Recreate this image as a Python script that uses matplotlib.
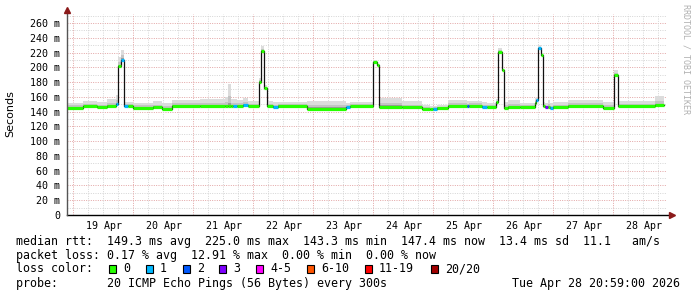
import matplotlib
matplotlib.use("Agg")
import matplotlib.pyplot as plt
import numpy as np
from matplotlib.patches import Rectangle

W, H = 697, 297

# day 0 = 19 Apr 00:00, steps held until next break
seg_day = [-0.10, 0.17, 0.40, 0.57, 0.72, 0.75, 0.80, 0.85, 0.92, 1.00,
           1.33, 1.48, 1.65, 2.12, 2.53, 2.58, 2.63, 2.67, 2.73, 2.83,
           2.92, 3.10, 3.13, 3.18, 3.23, 3.33, 3.42, 3.90, 4.55, 4.62,
           5.00, 5.07, 5.10, 5.48, 5.82, 5.95, 6.00, 6.07, 6.25, 6.57,
           6.60, 6.82, 6.90, 7.05, 7.08, 7.15, 7.18, 7.25, 7.45, 7.70,
           7.72, 7.75, 7.80, 7.83, 7.87, 7.92, 7.95, 8.00, 8.25, 8.83,
           9.02, 9.08, 9.70]
end_day = 9.85
median_ms = [145.5, 147, 146, 147, 150, 202, 210, 147.5, 147.5, 145.5,
             146, 144, 147.5, 147.5, 147.5, 147.5, 147.5, 147, 147.5, 149.5,
             147.5, 180, 222, 172, 147.5, 146.5, 147.5, 144, 146, 147,
             207, 203, 146.5, 146, 144, 143, 144, 145, 148, 147,
             148, 146, 146, 153, 221, 196, 145, 146.5, 146, 152,
             156, 226, 217, 147.5, 146, 146, 145.5, 146, 147.5, 144.8,
             190, 147.5, 149]
smoke_top = [152, 154, 153, 157, 162, 214, 224, 153, 153, 152,
             154, 152, 156, 157, 160, 178, 157, 157, 156, 158,
             154, 186, 229, 176, 154, 153, 153, 155, 152, 153,
             210, 205, 159, 154, 149, 147, 148, 149, 156, 155,
             155, 153, 152, 157, 226, 198, 153, 156, 152, 158,
             158, 230, 219, 153, 151, 156, 151, 153, 156, 153,
             196, 154, 161]
loss_idx = [0, 0, 0, 0, 1, 0, 1, 1, 0, 0,
            0, 0, 0, 0, 0, 0, 0, 1, 0, 1,
            0, 0, 0, 0, 0, 1, 0, 0, 1, 0,
            0, 0, 0, 0, 0, 0, 1, 0, 0, 2,
            0, 1, 0, 0, 0, 0, 0, 0, 0, 0,
            1, 1, 0, 0, 3, 0, 1, 0, 0, 0,
            0, 0, 0]

loss_colors = ["#26ff00", "#00b8ff", "#0059ff", "#7e00ff",
               "#ff00ff", "#ff5500", "#ff0000", "#a10000"]
loss_labels = ["0", "1", "2", "3", "4-5", "6-10", "11-19", "20/20"]
day_labels = ["19 Apr", "20 Apr", "21 Apr", "22 Apr", "23 Apr",
              "24 Apr", "25 Apr", "26 Apr", "27 Apr", "28 Apr"]

mono = "DejaVu Sans Mono"

fig = plt.figure(figsize=(W / 100, H / 100), dpi=100)
fig.patch.set_facecolor("white")
ax = fig.add_axes([67 / W, (H - 215) / H, 600 / W, 201 / H])
ax.set_xlim(-0.10, 9.90)
ax.set_ylim(0, 272.2)
for s in ax.spines.values():
    s.set_visible(False)

# grid
dot = (0, (1, 1.4))
for v in range(10, 280, 10):
    major = v % 20 == 0
    ax.axhline(v, color="#e2a4a4" if major else "#d4d4d4", lw=0.7, ls=dot, zorder=0)
for d in np.arange(-0.0, 9.9, 0.25):
    major = abs(d - round(d)) < 1e-6
    ax.axvline(d, color="#e2a4a4" if major else "#d4d4d4", lw=0.7, ls=dot, zorder=0)

x = np.array(seg_day + [end_day])
med = np.array(median_ms + [median_ms[-1]])
top = np.array(smoke_top + [smoke_top[-1]])

# smoke
ax.fill_between(x, med - 1.5, top, step="post", color="#dcdcdc", lw=0, zorder=1)
ax.fill_between(x, med - 1.0, med + (top - med) * 0.45, step="post", color="#c4c4c4", lw=0, zorder=2)
ax.fill_between(x, med - 0.5, med + (top - med) * 0.15, step="post", color="#9a9a9a", lw=0, zorder=3)

# median
ax.step(x, med, where="post", color="#111111", lw=0.9, zorder=4)
ax.hlines(med[:-1], x[:-1], x[1:], colors=[loss_colors[i] for i in loss_idx],
          lw=2.3, zorder=5)

# axes lines and arrows
ax.plot([0, 1.006], [0, 0], transform=ax.transAxes, color="black", lw=1, clip_on=False, zorder=6)
ax.plot([0, 0], [0, 1.01], transform=ax.transAxes, color="#555555", lw=1, clip_on=False, zorder=6)
ax.plot([1.008], [0], transform=ax.transAxes, marker=">", ms=4, color="#8b1a1a", clip_on=False, zorder=7)
ax.plot([0], [1.02], transform=ax.transAxes, marker="^", ms=4, color="#8b1a1a", clip_on=False, zorder=7)

yt = list(range(0, 270, 20))
ax.set_yticks(yt)
ax.set_yticklabels([f"{v} m" if v else "0" for v in yt], fontfamily=mono, fontsize=7.2)
ax.set_xticks(np.arange(len(day_labels)) + 0.52)
ax.set_xticklabels(day_labels, fontfamily=mono, fontsize=7.2)
ax.tick_params(axis="both", length=0, pad=5)
ax.tick_params(axis="x", pad=4)

fig.text(10 / W, 1 - 114 / H, "Seconds", rotation=90, ha="center", va="center", fontsize=8)
fig.text(686 / W, 1 - 4 / H, "RRDTOOL / TOBI OETIKER", rotation=270, ha="center", va="top",
         fontfamily=mono, fontsize=6, color="#b0b0b0")

def ftext(px, py, s, **kw):
    fig.text(px / W, 1 - py / H, s, fontfamily=mono, fontsize=8.4, va="center", **kw)

ftext(16, 242, "median rtt:  149.3 ms avg  225.0 ms max  143.3 ms min  147.4 ms now  13.4 ms sd  11.1   am/s")
ftext(16, 255, "packet loss: 0.17 % avg  12.91 % max  0.00 % min  0.00 % now")
ftext(16, 269, "loss color:")
ftext(16, 283, "probe:       20 ICMP Echo Pings (56 Bytes) every 300s")
ftext(680, 283, "Tue Apr 28 20:59:00 2026", ha="right")

box_x = [109, 146, 183, 219, 256, 307, 365, 431]
for bx, c, lab in zip(box_x, loss_colors, loss_labels):
    fig.patches.append(Rectangle((bx / W, 1 - 273 / H), 7 / W, 8 / H, transform=fig.transFigure,
                                 facecolor=c, edgecolor="black", lw=0.8))
    ftext(bx + 14, 269, lab)

fig.savefig("out.png", dpi=100)
